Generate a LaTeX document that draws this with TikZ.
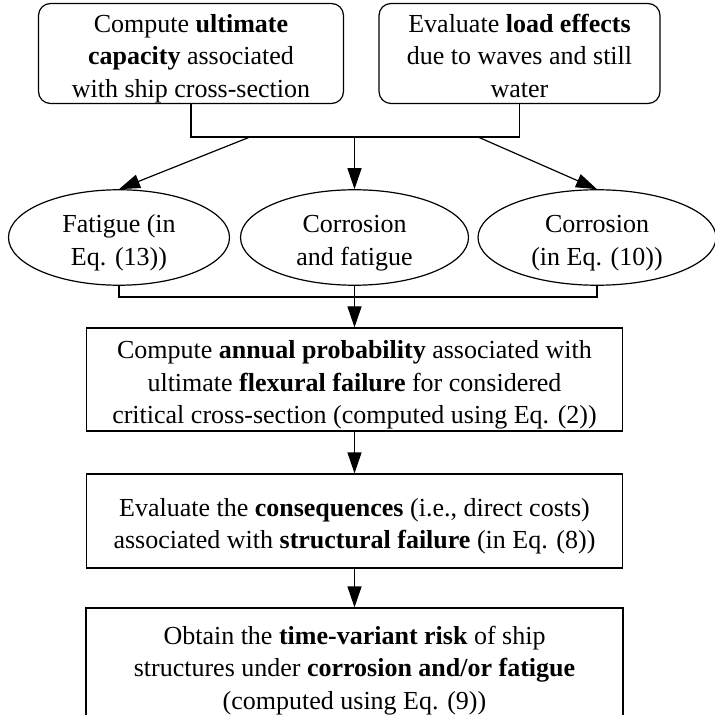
\documentclass[tikz,border=0pt]{standalone}
\usepackage{fontspec}
\setmainfont{Liberation Serif}
\usetikzlibrary{shapes.geometric,arrows.meta}
\newcommand{\fst}{\rule{0pt}{14.5pt}}
\newcommand{\lst}{\rule[-3pt]{0pt}{3pt}}
\begin{document}
\begin{tikzpicture}[x=0.5pt,y=-0.5pt,
  every node/.style={font=\fontsize{13}{16.25}\selectfont, align=center, inner sep=0pt},
  rbox/.style={draw, line width=0.6pt, rounded corners=6pt},
  sbox/.style={draw, line width=0.6pt},
  ell/.style={draw, ellipse, line width=0.6pt, minimum height=42.5pt},
  conn/.style={line width=0.6pt},
  arr/.style={line width=0.6pt, -{Triangle[length=10.5pt,width=7pt]}}]
\path[use as bounding box, fill=white] (0,0) rectangle (714,715);

\node[rbox, minimum width=152.5pt, minimum height=48.5pt] (b1) at (191,53.5)
  {\fst Compute \textbf{ultimate}\\\textbf{capacity} associated\\with ship cross-section\lst};
\node[rbox, minimum width=140.5pt, minimum height=48.5pt] (b2) at (519.5,53.5)
  {\fst Evaluate \textbf{load effects}\\due to waves and still\\water\lst};

\node[ell, minimum width=110.5pt] (e1) at (119,237.5) {\fst Fatigue (in\\Eq. (13))\lst};
\node[ell, minimum width=114pt] (e2) at (354.5,237.5) {\fst Corrosion\\and fatigue\lst};
\node[ell, minimum width=119pt] (e3) at (597,237.5) {\fst Corrosion\\(in Eq. (10))\lst};

\node[sbox, minimum width=268pt, minimum height=51.5pt] (b3) at (354.5,379.5)
  {\fst Compute \textbf{annual probability} associated with\\ultimate \textbf{flexural failure} for considered\\critical cross-section (computed using Eq. (2))\lst};
\node[sbox, minimum width=268pt, minimum height=47pt] (b4) at (354.5,521)
  {\fst Evaluate the \textbf{consequences} (i.e., direct costs)\\associated with \textbf{structural failure} (in Eq. (8))\lst};
\node[sbox, minimum width=268.5pt, minimum height=57pt] (b5) at (354.5,665)
  {\fst Obtain the \textbf{time-variant risk} of ship\\structures under \textbf{corrosion and/or fatigue}\\(computed using Eq. (9))\lst};

% top bar
\coordinate (barL) at (250,137);
\coordinate (barM) at (354.5,137);
\coordinate (barR) at (478,137);
\draw[conn] (b1.south) -- (b1.south |- barM) -- (b2.south |- barM) -- (b2.south);
\draw[arr] (barL) -- (e1.north);
\draw[arr] (barM) -- (e2.north);
\draw[arr] (barR) -- (e3.north);

% bottom bar
\coordinate (bot) at (354.5,297);
\draw[conn] (e1.south) -- (e1.south |- bot) -- (e3.south |- bot) -- (e3.south);
\draw[arr] (e2.south) -- (b3.north);
\draw[arr] (b3.south) -- (b4.north);
\draw[arr] (b4.south) -- (b5.north);
\end{tikzpicture}
\end{document}
